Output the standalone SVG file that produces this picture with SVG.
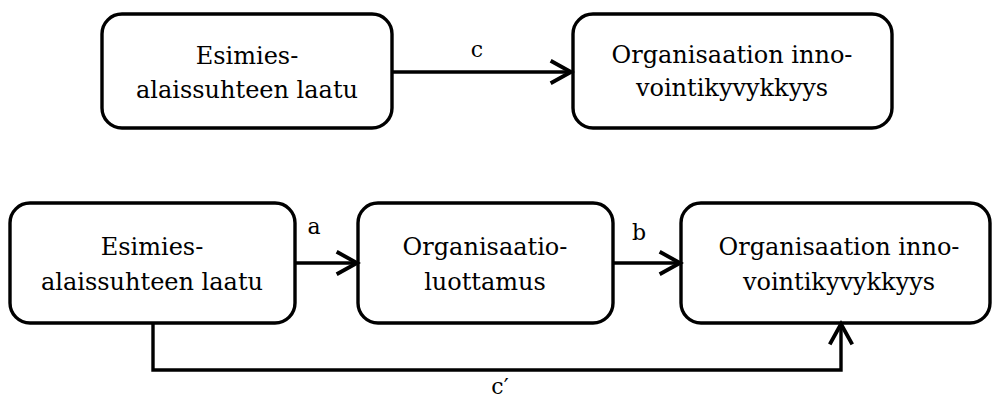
<svg xmlns="http://www.w3.org/2000/svg" width="992" height="399" viewBox="0 0 992 399">
  <style>
    .box { fill: #ffffff; stroke: #000000; stroke-width: 3.4; }
    .txt { font-family: "DejaVu Serif", "Liberation Serif", serif; font-size: 24px; fill: #000000; text-anchor: middle; }
    .lbl { font-family: "DejaVu Serif", "Liberation Serif", serif; font-size: 22px; fill: #000000; text-anchor: middle; }
    .edge { fill: none; stroke: #000000; stroke-width: 3.4; }
  </style>
  <defs>
    <marker id="chevron" markerUnits="userSpaceOnUse" markerWidth="30" markerHeight="30" viewBox="-24 -14 28 28" refX="0" refY="0" orient="auto">
      <path d="M-19,-10.5 L0,0 L-19,10.5" fill="none" stroke="#000000" stroke-width="3.6" stroke-linejoin="miter"/>
    </marker>
  </defs>

  <!-- top row: direct effect -->
  <g id="top-leadership">
    <rect class="box" x="102" y="14" width="290" height="114" rx="20"/>
    <text class="txt" x="247" y="64">Esimies-</text>
    <text class="txt" x="247" y="98">alaissuhteen laatu</text>
  </g>
  <g id="top-innovation">
    <rect class="box" x="573" y="14" width="319" height="114" rx="20"/>
    <text class="txt" x="732" y="63">Organisaation inno-</text>
    <text class="txt" x="732" y="96">vointikyvykkyys</text>
  </g>

  <!-- bottom row: mediated model -->
  <g id="bottom-leadership">
    <rect class="box" x="10" y="203" width="285" height="120" rx="20"/>
    <text class="txt" x="152" y="255">Esimies-</text>
    <text class="txt" x="152" y="290">alaissuhteen laatu</text>
  </g>
  <g id="bottom-trust">
    <rect class="box" x="358" y="203" width="255" height="120" rx="20"/>
    <text class="txt" x="485" y="255">Organisaatio-</text>
    <text class="txt" x="485" y="290">luottamus</text>
  </g>
  <g id="bottom-innovation">
    <rect class="box" x="681" y="203" width="309" height="120" rx="20"/>
    <text class="txt" x="839" y="255">Organisaation inno-</text>
    <text class="txt" x="839" y="290">vointikyvykkyys</text>
  </g>

  <g id="connectors">
    <path class="edge" d="M392,72 L571,72" marker-end="url(#chevron)"/>
    <text class="lbl" x="477" y="57">c</text>

    <path class="edge" d="M295,263 L357,263" marker-end="url(#chevron)"/>
    <text class="lbl" x="314" y="234">a</text>

    <path class="edge" d="M613,263 L680,263" marker-end="url(#chevron)"/>
    <text class="lbl" x="639" y="240">b</text>

    <path class="edge" d="M153,323 L153,370 L841,370 L841,324" marker-end="url(#chevron)"/>
    <text class="lbl" x="500" y="394">c′</text>
  </g>
</svg>
